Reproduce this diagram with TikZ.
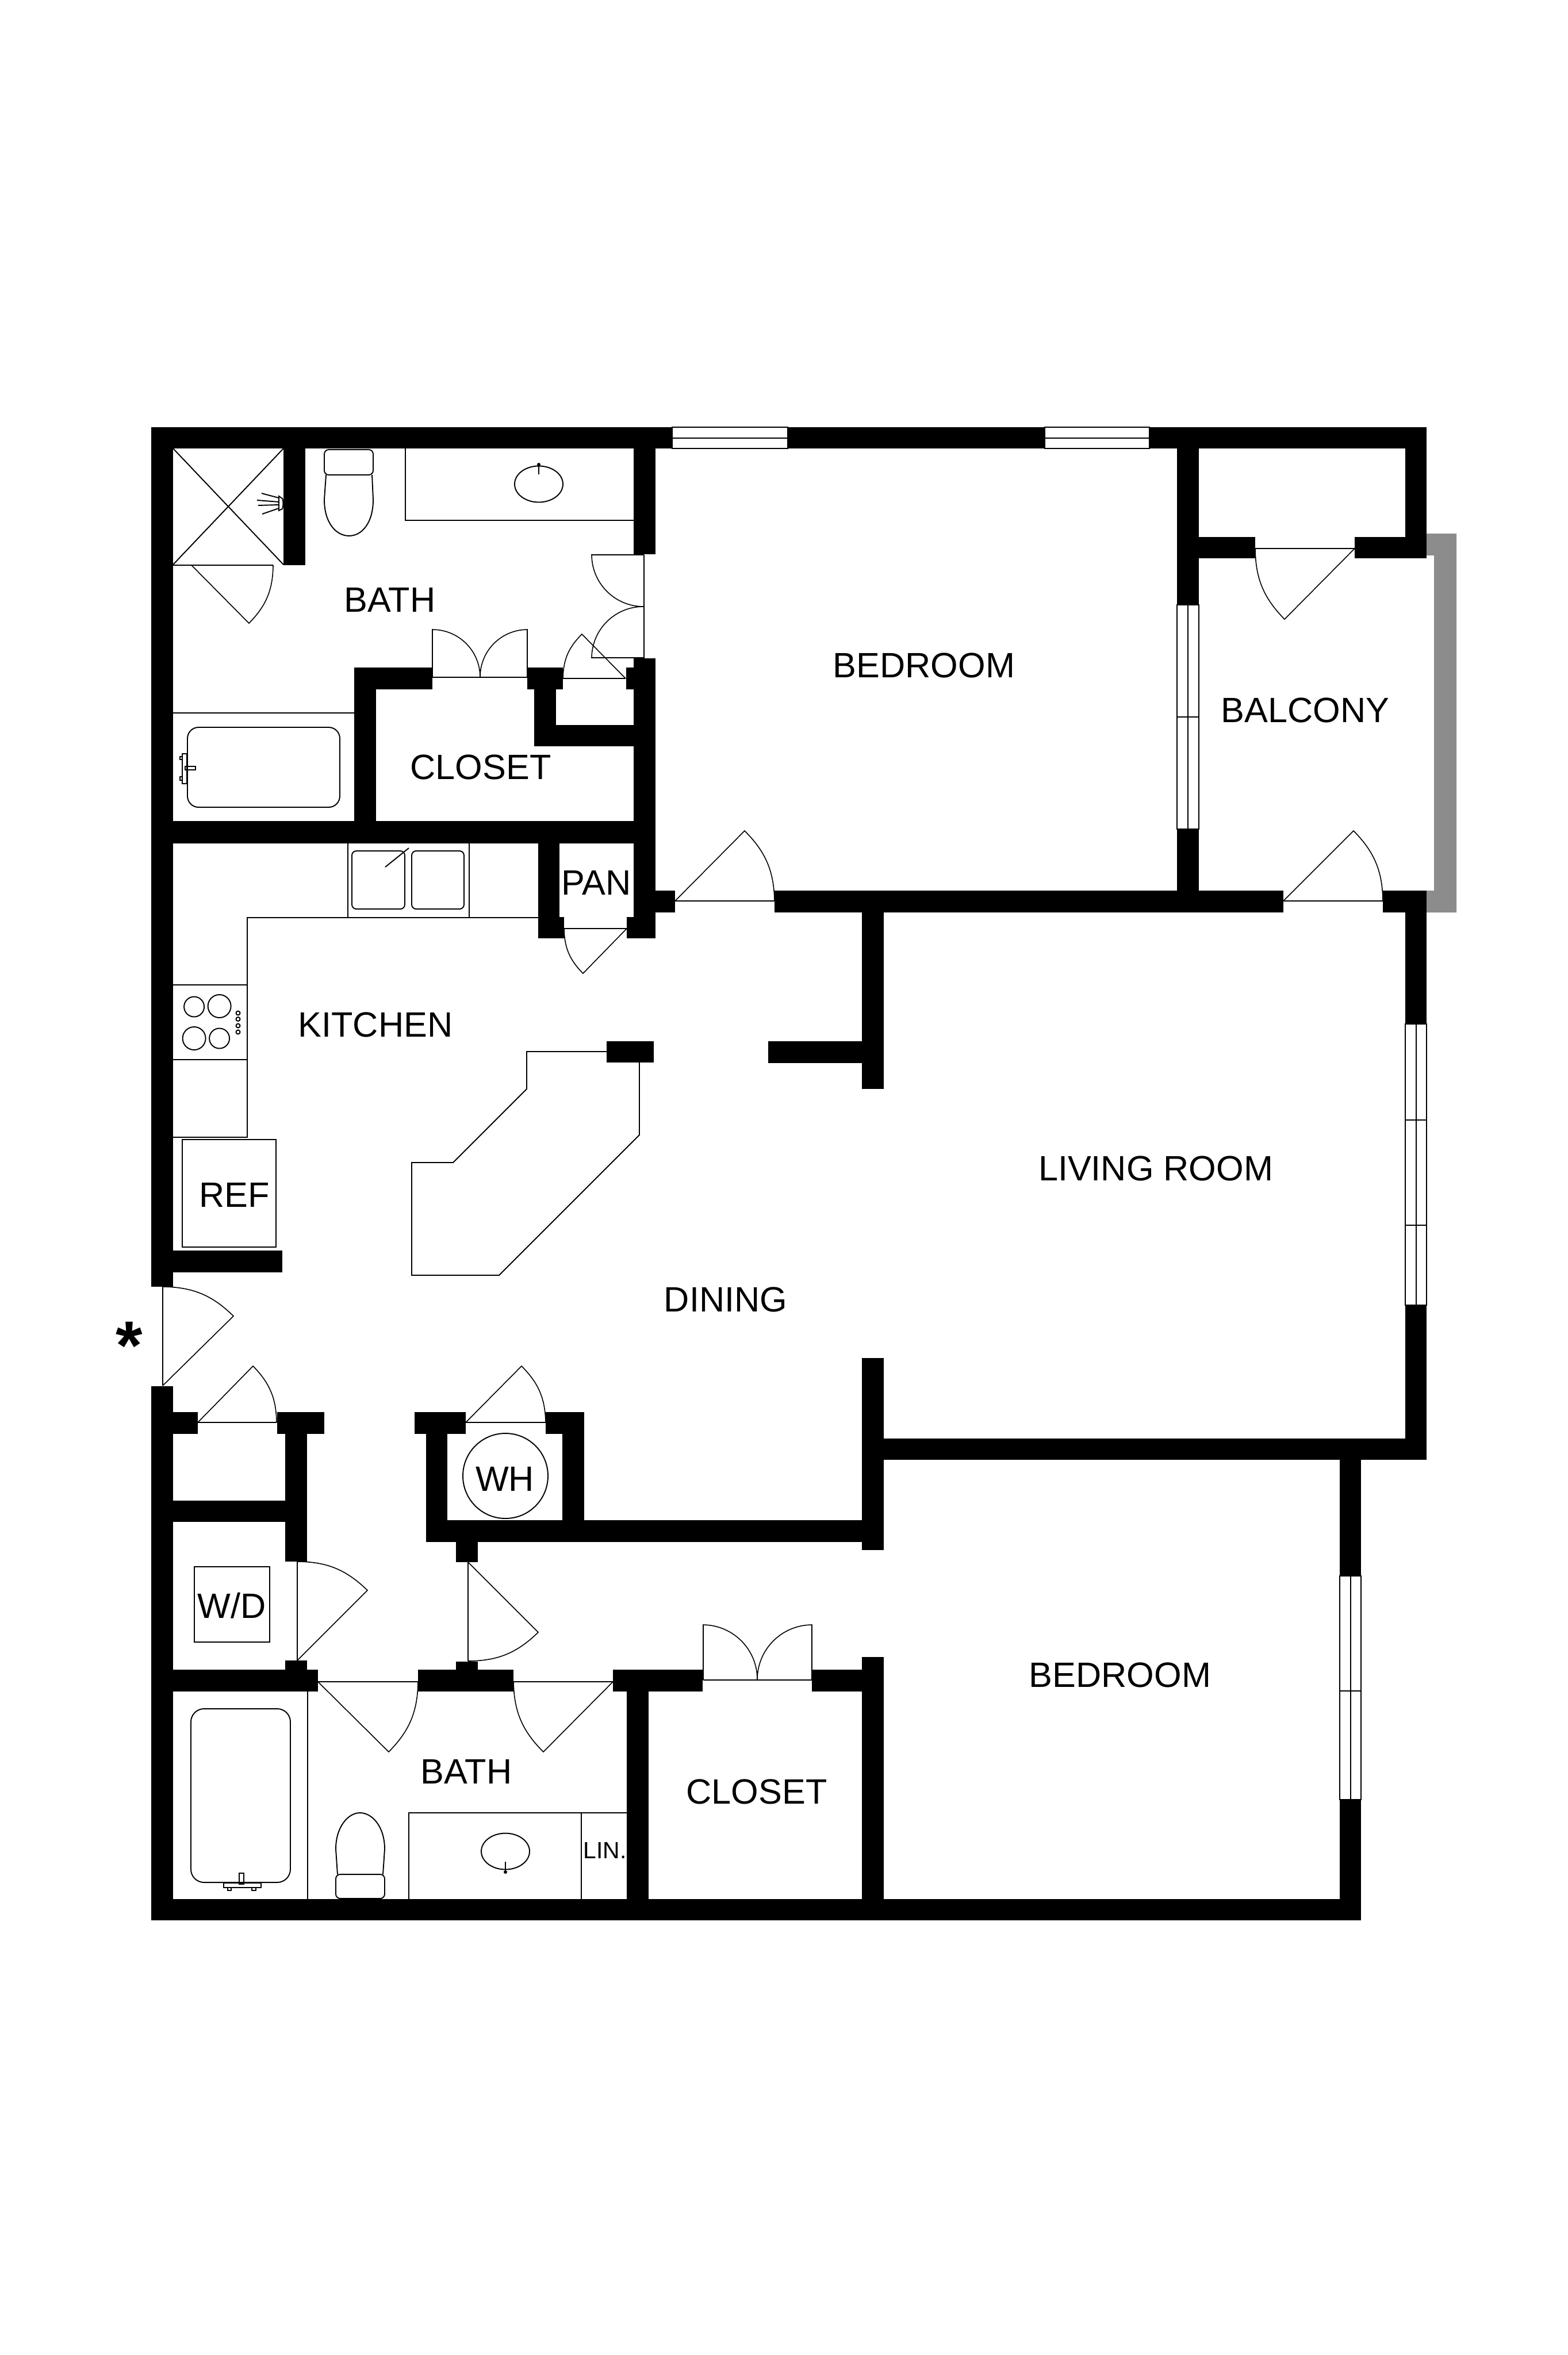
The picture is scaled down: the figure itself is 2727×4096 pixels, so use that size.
\documentclass[tikz,border=0pt]{standalone}
\usepackage{fontspec}
\setmainfont{Liberation Sans}
\usepackage{tikz}
\usetikzlibrary{positioning}
\definecolor{railgrey}{HTML}{8C8C8C}

\begin{document}
\begin{tikzpicture}
      [x=0.01cm, y=-0.01cm,
       wall/.style={fill=black},
       rail/.style={fill=railgrey},
       fixture/.style={draw=black, line width=0.55pt},
       doorswing/.style={draw=black, line width=0.45pt},
       doorsill/.style={draw=black, line width=0.8pt},
       pane/.style={draw=black, line width=0.35pt, fill=white},
       roomlabel/.style={inner sep=0pt, font=\fontsize{17.4}{20}\selectfont},
       smalllabel/.style={inner sep=0pt, font=\fontsize{11.6}{13}\selectfont},
       starlabel/.style={inner sep=0pt, font=\bfseries\fontsize{34}{36}\selectfont}]
      \useasboundingbox (0, 0) rectangle (2727, 4096);
      \fill [white] (0, 0) rectangle (2727, 4096);

      \fill [rail] (2481, 928) -- (2533, 928) -- (2533, 1587) -- (2481, 1587) -- (2481, 1549) -- (2494, 1549) -- (2494, 966) -- (2481, 966) -- cycle;

      \fill [wall] (263, 743) rectangle (1169, 780);
      \fill [wall] (1370, 743) rectangle (1817, 780);
      \fill [wall] (1999, 743) rectangle (2481, 780);
      \fill [wall] (263, 743) rectangle (301, 2238);
      \fill [wall] (263, 2411) rectangle (301, 3340);
      \fill [wall] (263, 3303) rectangle (2367, 3340);
      \fill [wall] (493, 780) rectangle (531, 983);
      \fill [wall] (1102, 780) rectangle (1140, 964);
      \fill [wall] (1102, 1145) rectangle (1140, 1632);
      \fill [wall] (616, 1161) rectangle (752, 1199);
      \fill [wall] (616, 1161) rectangle (654, 1467);
      \fill [wall] (917, 1161) rectangle (979, 1199);
      \fill [wall] (929, 1161) rectangle (967, 1298);
      \fill [wall] (929, 1261) rectangle (1102, 1298);
      \fill [wall] (1089, 1161) rectangle (1102, 1199);
      \fill [wall] (263, 1428) rectangle (1140, 1467);
      \fill [wall] (936, 1467) rectangle (973, 1632);
      \fill [wall] (973, 1595) rectangle (981, 1632);
      \fill [wall] (1090, 1595) rectangle (1102, 1632);
      \fill [wall] (1140, 1549) rectangle (1174, 1587);
      \fill [wall] (1347, 1549) rectangle (2232, 1587);
      \fill [wall] (2405, 1549) rectangle (2481, 1587);
      \fill [wall] (2047, 780) rectangle (2085, 1052);
      \fill [wall] (2047, 1442) rectangle (2085, 1549);
      \fill [wall] (2444, 780) rectangle (2481, 971);
      \fill [wall] (2085, 934) rectangle (2183, 971);
      \fill [wall] (2356, 934) rectangle (2481, 971);
      \fill [wall] (2444, 1587) rectangle (2481, 1781);
      \fill [wall] (2444, 2270) rectangle (2481, 2539);
      \fill [wall] (1537, 2502) rectangle (2481, 2539);
      \fill [wall] (1499, 1587) rectangle (1537, 1894);
      \fill [wall] (1336, 1811) rectangle (1499, 1849);
      \fill [wall] (1055, 1811) rectangle (1137, 1848);
      \fill [wall] (1499, 2362) rectangle (1537, 2696);
      \fill [wall] (741, 2644) rectangle (1499, 2682);
      \fill [wall] (793, 2682) rectangle (831, 2717);
      \fill [wall] (741, 2456) rectangle (778, 2682);
      \fill [wall] (721, 2456) rectangle (810, 2494);
      \fill [wall] (949, 2456) rectangle (1016, 2494);
      \fill [wall] (978, 2456) rectangle (1016, 2682);
      \fill [wall] (301, 2175) rectangle (491, 2213);
      \fill [wall] (301, 2456) rectangle (344, 2494);
      \fill [wall] (482, 2456) rectangle (564, 2494);
      \fill [wall] (496, 2456) rectangle (534, 2716);
      \fill [wall] (301, 2610) rectangle (534, 2647);
      \fill [wall] (496, 2888) rectangle (534, 2904);
      \fill [wall] (301, 2904) rectangle (553, 2942);
      \fill [wall] (727, 2904) rectangle (893, 2942);
      \fill [wall] (793, 2890) rectangle (831, 2904);
      \fill [wall] (1066, 2904) rectangle (1222, 2942);
      \fill [wall] (1090, 2904) rectangle (1128, 3340);
      \fill [wall] (1412, 2904) rectangle (1499, 2942);
      \fill [wall] (1499, 2882) rectangle (1537, 3340);
      \fill [wall] (2330, 2539) rectangle (2367, 2741);
      \fill [wall] (2330, 3130) rectangle (2367, 3340);

      \draw [pane] (1169, 743) rectangle (1370, 780);
      \draw [pane] (1169, 762) -- (1370, 762);
      \draw [pane] (1817, 743) rectangle (1999, 780);
      \draw [pane] (1817, 762) -- (1999, 762);
      \draw [pane] (2047, 1052) rectangle (2085, 1442);
      \draw [pane] (2066, 1052) -- (2066, 1442);
      \draw [pane] (2047, 1247) -- (2085, 1247);
      \draw [pane] (2444, 1781) rectangle (2481, 2270);
      \draw [pane] (2463, 1781) -- (2463, 2270);
      \draw [pane] (2444, 1948) -- (2481, 1948);
      \draw [pane] (2444, 2131) -- (2481, 2131);
      \draw [pane] (2330, 2741) rectangle (2367, 3130);
      \draw [pane] (2349, 2741) -- (2349, 3130);
      \draw [pane] (2330, 2941) -- (2367, 2941);

      \draw [doorswing] (1120, 1145) -- (1120, 965);
      \draw [doorswing] (1120, 965) -- (1029, 965) to [bend right=45] (1120, 1055);
      \draw [doorswing] (1120, 1144) -- (1029, 1144) to [bend left=45] (1120, 1055);
      \draw [doorsill] (752, 1178) -- (917, 1178);
      \draw [doorswing] (752, 1178) -- (752, 1095) to [bend left=45] (835, 1178);
      \draw [doorswing] (917, 1178) -- (917, 1095) to [bend right=45] (835, 1178);
      \draw [doorsill] (979, 1180) -- (1088, 1180);
      \draw [doorswing] (1088, 1180) -- (1012, 1103) to [bend right=22] (979, 1180);
      \draw [doorsill] (301, 983) -- (475, 983);
      \draw [doorswing] (333, 983) -- (433, 1084) to [bend right=22] (475, 983);
      \draw [doorsill] (981, 1615) -- (1090, 1615);
      \draw [doorswing] (1090, 1615) -- (1014, 1693) to [bend left=22] (981, 1615);
      \draw [doorsill] (1174, 1567) -- (1347, 1567);
      \draw [doorswing] (1174, 1567) -- (1295, 1445) to [bend left=22] (1347, 1567);
      \draw [doorsill] (2232, 1567) -- (2405, 1567);
      \draw [doorswing] (2232, 1567) -- (2354, 1445) to [bend left=22] (2405, 1567);
      \draw [doorsill] (2183, 954) -- (2356, 954);
      \draw [doorswing] (2356, 954) -- (2234, 1077) to [bend left=22] (2183, 954);
      \draw [doorsill] (283, 2238) -- (283, 2410);
      \draw [doorswing] (283, 2410) -- (406, 2289) to [bend right=22] (283, 2238);
      \draw [doorsill] (344, 2474) -- (481, 2474);
      \draw [doorswing] (344, 2474) -- (440, 2376) to [bend left=22] (481, 2474);
      \draw [doorsill] (810, 2474) -- (949, 2474);
      \draw [doorswing] (810, 2474) -- (907, 2376) to [bend left=22] (949, 2474);
      \draw [doorsill] (517, 2716) -- (517, 2888);
      \draw [doorswing] (517, 2888) -- (639, 2766) to [bend right=22] (517, 2716);
      \draw [doorsill] (814, 2717) -- (814, 2889);
      \draw [doorswing] (814, 2717) -- (936, 2839) to [bend left=22] (814, 2889);
      \draw [doorsill] (553, 2925) -- (727, 2925);
      \draw [doorswing] (553, 2925) -- (676, 3047) to [bend right=22] (727, 2925);
      \draw [doorsill] (893, 2925) -- (1066, 2925);
      \draw [doorswing] (1066, 2925) -- (945, 3047) to [bend left=22] (893, 2925);
      \draw [doorsill] (1223, 2922) -- (1412, 2922);
      \draw [doorswing] (1223, 2922) -- (1223, 2826) to [bend left=45] (1317, 2922);
      \draw [doorswing] (1412, 2922) -- (1412, 2826) to [bend right=45] (1317, 2922);

      \draw [fixture] (301, 780) -- (493, 982);
      \draw [fixture] (493, 780) -- (301, 982);
      \draw [fixture] (485, 863) -- (485, 888) -- (491, 885) .. controls (493, 880) and (493, 871) .. (491, 867) -- cycle;
      \draw [fixture] (485, 866) -- (455, 858);
      \draw [fixture] (485, 873) -- (447, 870);
      \draw [fixture] (485, 878) -- (449, 879);
      \draw [fixture] (485, 884) -- (456, 894);
      \draw [fixture, rounded corners=2.2pt] (564, 782) rectangle (649, 826);
      \draw [fixture] (567, 826) -- (564, 869) .. controls (564, 910) and (585, 932) .. (607, 932) .. controls (629, 932) and (649, 910) .. (649, 869) -- (647, 826);
      \draw [fixture] (705, 780) -- (705, 905) -- (1102, 905);
      \draw [fixture] (937, 842) ellipse (42 and 31.5);
      \draw [fixture, line width=0.8pt] (937, 806) -- (937, 825);
      \fill (937, 808) circle (3);
      \draw [fixture] (301, 1240) -- (616, 1240);
      \draw [fixture, rounded corners=5.5pt] (326, 1265) rectangle (591, 1404);
      \draw [fixture] (317, 1311) rectangle (325, 1363);
      \draw [fixture] (322, 1333) rectangle (340, 1339);
      \draw [fixture] (313, 1316) rectangle (317, 1321);
      \draw [fixture] (313, 1351) rectangle (317, 1357);

      \draw [fixture] (605, 1467) -- (605, 1596);
      \draw [fixture] (816, 1467) -- (816, 1596);
      \draw [fixture] (936, 1596) -- (430, 1596) -- (430, 1978) -- (301, 1978);
      \draw [fixture, rounded corners=2.2pt] (612, 1480) rectangle (704, 1581);
      \draw [fixture, rounded corners=2.2pt] (716, 1480) rectangle (807, 1581);
      \draw [fixture] (670, 1508) -- (711, 1475);
      \draw [fixture] (301, 1713) -- (430, 1713);
      \draw [fixture] (301, 1843) -- (430, 1843);
      \draw [fixture] (337.6, 1751) circle (17.5);
      \draw [fixture] (381.6, 1750) circle (20);
      \draw [fixture] (337.6, 1806) circle (20);
      \draw [fixture] (381.6, 1806) circle (17.5);
      \draw [fixture] (414, 1762) circle (3.5);
      \draw [fixture] (414, 1772.5) circle (3.5);
      \draw [fixture] (414, 1784) circle (3.5);
      \draw [fixture] (414, 1795) circle (3.5);
      \draw [fixture] (317, 1982) rectangle (480, 2169);
      \draw [fixture] (1055, 1829) -- (916, 1829) -- (916, 1894) -- (788, 2022) -- (716, 2022) -- (716, 2218) -- (868, 2218) -- (1112, 1974) -- (1112, 1848);

      \draw [fixture] (879, 2567) circle (74);
      \draw [fixture] (338, 2725) rectangle (469, 2856);
      \draw [fixture] (535, 2942) -- (535, 3303);
      \draw [fixture, rounded corners=6.5pt] (332, 2972) rectangle (505, 3274);
      \draw [fixture] (389, 3275) rectangle (454, 3283);
      \draw [fixture] (416, 3258) rectangle (424, 3277);
      \draw [fixture] (396, 3283) rectangle (402, 3288);
      \draw [fixture] (438, 3283) rectangle (445, 3288);
      \draw [fixture, rounded corners=2.2pt] (584, 3260) rectangle (669, 3302);
      \draw [fixture] (587, 3260) -- (584, 3216) .. controls (584, 3178) and (605, 3153) .. (626, 3153) .. controls (648, 3153) and (669, 3178) .. (669, 3216) -- (666, 3260);
      \draw [fixture] (711, 3303) -- (711, 3153) -- (1090, 3153);
      \draw [fixture] (1011, 3153) -- (1011, 3303);
      \draw [fixture] (879, 3220) ellipse (42 and 31.5);
      \draw [fixture, line width=0.8pt] (879, 3238) -- (879, 3258);
      \fill (879, 3256) circle (3);

      \node (upperbath) [roomlabel] at (678, 1043) {BATH};
      \node (uppercloset) [roomlabel] at (836, 1334) {CLOSET};
      \node (upperbedroom) [roomlabel] at (1607, 1157) {BEDROOM};
      \node (balcony) [roomlabel] at (2270, 1235) {BALCONY};
      \node (pantry) [roomlabel] at (1037, 1535) {PAN};
      \node (kitchen) [roomlabel] at (653, 1782) {KITCHEN};
      \node (fridge) [roomlabel] at (408, 2078) {REF};
      \node (livingroom) [roomlabel] at (2010, 2032) {LIVING ROOM};
      \node (dining) [roomlabel] at (1262, 2260) {DINING};
      \node (heater) [roomlabel] at (878, 2572) {WH};
      \node (washer) [roomlabel] at (403, 2793) {W/D};
      \node (lowerbath) [roomlabel] at (811, 3081) {BATH};
      \node (linen) [smalllabel] at (1052, 3218) {LIN.};
      \node (lowercloset) [roomlabel] at (1316, 3116) {CLOSET};
      \node (lowerbedroom) [roomlabel] at (1948, 2913) {BEDROOM};
      \node (entry) [starlabel] at (225, 2340) {*};
    
    \end{tikzpicture}
\end{document}
